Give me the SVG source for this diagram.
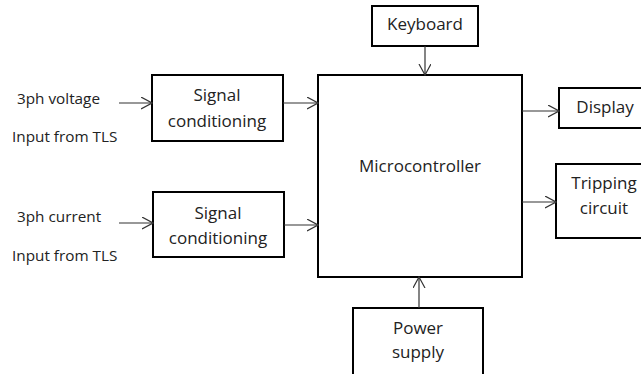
<svg xmlns="http://www.w3.org/2000/svg" width="641" height="374" viewBox="0 0 641 374">
<style>
.box{fill:#fff;stroke:#000;stroke-width:2}
.t{font-family:"Open Sans","Liberation Sans",Arial,sans-serif;font-size:17px;fill:#222;text-anchor:middle}
.l{font-family:"Open Sans","Liberation Sans",Arial,sans-serif;font-size:15.3px;fill:#222}
.c{stroke:#333;stroke-width:1.2;fill:none;marker-end:url(#ah)}
</style>
<defs>
<marker id="ah" markerWidth="12" markerHeight="14" refX="11" refY="6" orient="auto" markerUnits="userSpaceOnUse">
<path d="M0,0 L11,6 L0,12" fill="none" stroke="#333" stroke-width="1.2"/>
</marker>
</defs>
<g id="labels">
<text class="l" x="17" y="104">3ph voltage</text>
<text class="l" x="12" y="142">Input from TLS</text>
<text class="l" x="17" y="222">3ph current</text>
<text class="l" x="12" y="261">Input from TLS</text>
</g>
<g id="sc1"><rect class="box" x="152" y="75" width="131" height="66"/><text class="t" x="217" y="101">Signal</text><text class="t" x="217" y="127">conditioning</text></g>
<g id="sc2"><rect class="box" x="153" y="192" width="131" height="65"/><text class="t" x="218" y="219">Signal</text><text class="t" x="218" y="244">conditioning</text></g>
<g id="micro"><rect class="box" x="318" y="75" width="204" height="202"/><text class="t" x="420" y="172">Microcontroller</text></g>
<g id="keyboard"><rect class="box" x="372" y="6" width="106" height="40"/><text class="t" x="425" y="30">Keyboard</text></g>
<g id="display"><rect class="box" x="559" y="88" width="90" height="40"/><text class="t" x="605" y="113">Display</text></g>
<g id="tripping"><rect class="box" x="556" y="164" width="90" height="74"/><text class="t" x="604" y="189">Tripping</text><text class="t" x="604" y="214">circuit</text></g>
<g id="power"><rect class="box" x="353" y="308" width="130" height="70"/><text class="t" x="418" y="334">Power</text><text class="t" x="418" y="358">supply</text></g>
<g id="connectors">
<path class="c" d="M119,103 H152"/>
<path class="c" d="M119,223 H153"/>
<path class="c" d="M283,103 H318"/>
<path class="c" d="M284,225 H318"/>
<path class="c" d="M425,46 V75"/>
<path class="c" d="M522,111 H559"/>
<path class="c" d="M522,202 H556"/>
<path class="c" d="M419,308 V277"/>
</g>
</svg>
